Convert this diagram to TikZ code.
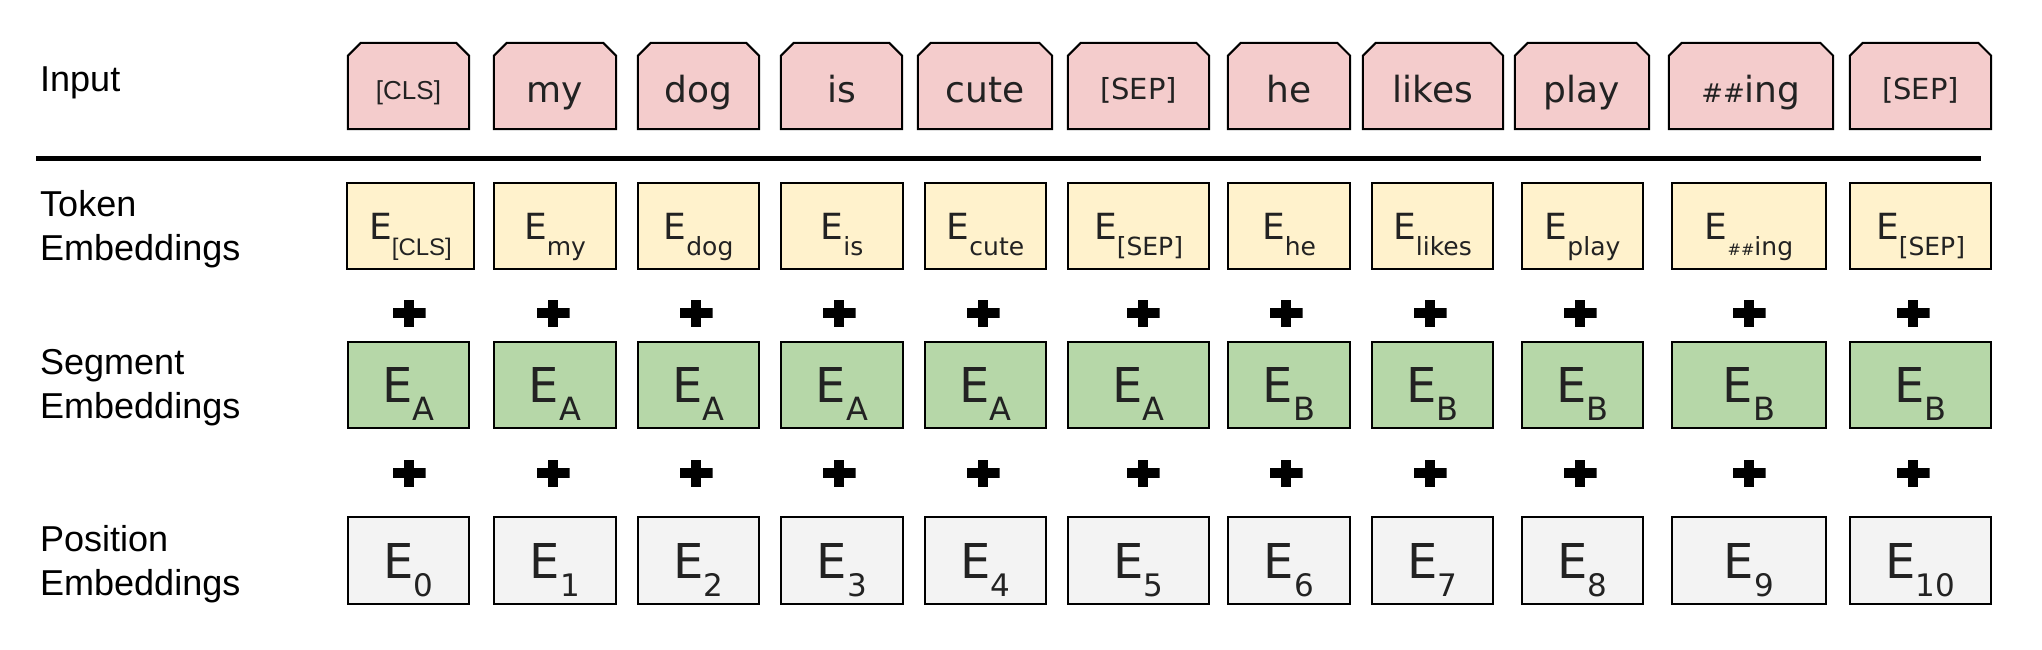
\documentclass[tikz,border=0pt]{standalone}
\usepackage{fontspec}
\setmainfont{DejaVu Sans}
\newfontfamily\arialfont{Liberation Sans}
\usepackage{tikz}
\definecolor{inpink}{HTML}{F4CCCC}
\definecolor{tokyellow}{HTML}{FFF2CC}
\definecolor{seggreen}{HTML}{B6D7A8}
\definecolor{posgray}{HTML}{F3F3F3}
\definecolor{boxtext}{HTML}{222222}
\pgfdeclarelayer{tokenbg}
\pgfsetlayers{tokenbg,main}

\newcommand\fsz[1]{\fontsize{#1}{#1}\selectfont}
\newcommand\clsword[1]{{\fsz{#1}\arialfont[CLS]}}
\newcommand\sepword[1]{{\fsz{#1}[SEP]}}
\newcommand\hashes[1]{{\fsz{#1}\#\#}}
\newcommand\inCLS{\raisebox{3pt}{\clsword{26}}}
\newcommand\inSEP{\raisebox{3pt}{\sepword{29}}}
\newcommand\subE[4]{{\fsz{#1}E\raisebox{-#3pt}{\fsz{#2}#4}}}

\tikzset{
	rowbox/.style={draw=black, line width=2pt, inner sep=0pt, minimum height=86pt, text depth=0pt, text=boxtext},
	inword/.style={inner sep=0pt, minimum height=86pt, text height=34pt, text depth=0pt, text=boxtext, font=\fsz{36}},
	inshape/.style={draw=black, line width=2pt, fill=inpink},
	tokbox/.style={rowbox, fill=tokyellow, text height=26pt},
	segbox/.style={rowbox, fill=seggreen, text height=34pt},
	posbox/.style={rowbox, fill=posgray, text height=35pt, minimum height=87pt},
	rowlabel/.style={inner sep=0pt, align=left, font=\arialfont\fontsize{36}{44}\selectfont},
	plussign/.style={inner sep=0pt, minimum width=33pt, minimum height=27pt,
		path picture={\fill (path picture bounding box.center) ++(-16.5pt,-5pt) rectangle ++(33pt,10pt);
			\fill (path picture bounding box.center) ++(-5pt,-13.5pt) rectangle ++(10pt,27pt);}}
}

\begin{document}
\begin{tikzpicture}[x=1pt, y=-1pt]
	\useasboundingbox (0,0) rectangle (2042,650);
	\node at (40,92) (lblInput) [rowlabel, anchor=base west] {Input};
	\node at (40,229) (lblTok) [rowlabel, anchor=west] {Token\\Embeddings};
	\node at (40,388) (lblSeg) [rowlabel, anchor=west] {Segment\\Embeddings};
	\node at (40,564) (lblPos) [rowlabel, anchor=west] {Position\\Embeddings};
	\coordinate (sepL) at (36,158); \coordinate (sepR) at (1981,158);
	\draw[line width=5pt] (sepL) -- (sepR);
	% input tokens, cut corners drawn behind the text
	\foreach \i/\cx/\w/\word in {0/408.5/121/\inCLS, 1/555/122/my, 2/698.5/121/dog, 3/841.5/121/is, 4/985/134/cute, 5/1138.5/141/\inSEP, 6/1289/122/he, 7/1433/140/likes, 8/1582/134/play, 9/1751/164/\hashes{26}ing, 10/1920.5/141/\inSEP}{
		\node at (\cx,86) (in\i) [inword, minimum width=\w pt] {\word};
		\begin{pgfonlayer}{tokenbg}
			\draw[inshape] (in\i.south west) -- ([yshift=-13pt]in\i.north west) -- ([xshift=13pt]in\i.north west) -- ([xshift=-13pt]in\i.north east) -- ([yshift=-13pt]in\i.north east) -- (in\i.south east) -- cycle;
		\end{pgfonlayer}
	}
	\foreach \i/\cx/\w/\subtxt in {0/410.5/127/\clsword{24}, 1/555/122/my, 2/698.5/121/dog, 3/842/122/is, 4/985.5/121/cute, 5/1138.5/141/[SEP], 6/1289/122/he, 7/1432.5/121/likes, 8/1582.5/121/play, 9/1749/154/\hashes{16}ing, 10/1920.5/141/[SEP]}
		\node at (\cx,226) (tok\i) [tokbox, minimum width=\w pt] {\subE{36}{25}{16}{\subtxt}};
	\foreach \i/\cx/\w/\s/\px in {0/408.5/121/A/409, 1/555/122/A/553, 2/698.5/121/A/696, 3/842/122/A/839, 4/985.5/121/A/983, 5/1138.5/141/A/1143, 6/1289/122/B/1286, 7/1432.5/121/B/1430, 8/1582.5/121/B/1580, 9/1749/154/B/1749, 10/1920.5/141/B/1913}{
		\node at (\px,313) (plusA\i) [plussign] {};
		\node at (\cx,385) (seg\i) [segbox, minimum width=\w pt] {\subE{48}{32}{18}{\s}};
		\node at (\px,473) (plusB\i) [plussign] {};
		\node at (\cx,560.5) (pos\i) [posbox, minimum width=\w pt] {\subE{48}{31}{18}{\i}};
	}
\end{tikzpicture}
\end{document}
